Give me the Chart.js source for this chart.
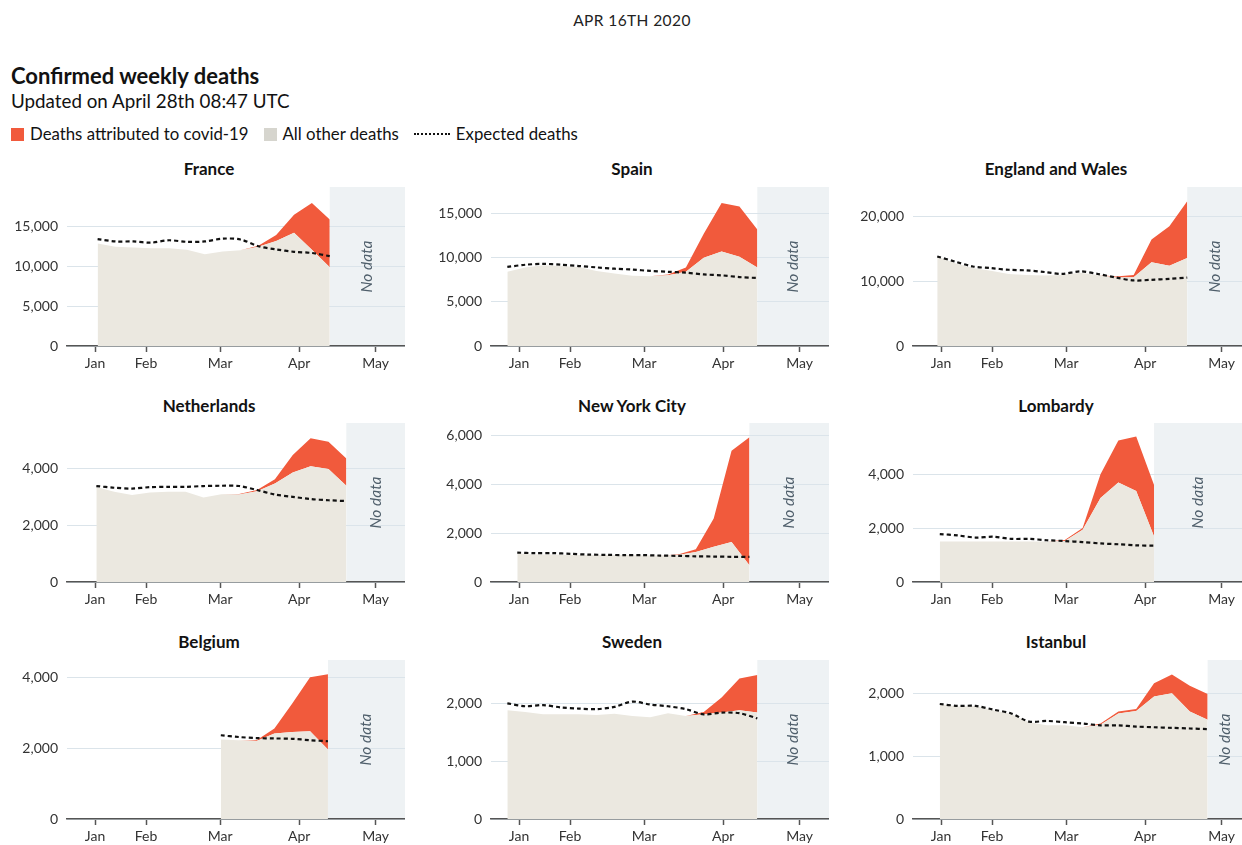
<!DOCTYPE html>
<html>
<head>
<meta charset="utf-8">
<title>Confirmed weekly deaths</title>
<script src="https://cdn.jsdelivr.net/npm/chart.js@4.4.1/dist/chart.umd.min.js"></script>
<style>
  html, body { margin: 0; padding: 0; background: #fff; width: 1242px; height: 845px; overflow: hidden;
               font-family: Lato, "Noto Sans", sans-serif; color: #121212; }
  .abs { position: absolute; white-space: nowrap; line-height: 1; }
  #date { top: 13px; left: 0; width: 1264px; text-align: center; font-size: 15.5px; letter-spacing: 0.4px; color: #222; }
  #title { top: 65px; left: 11px; font-size: 22px; font-weight: bold; }
  #subtitle { top: 92px; left: 11px; font-size: 18.8px; }
  #legend { top: 126px; left: 11px; font-size: 16.8px; display: flex; align-items: center; }
  #legend .sw { width: 13px; height: 13px; margin-right: 6px; }
  #legend .item { display: flex; align-items: center; margin-right: 15px; }
  #legend .dash { width: 36px; border-top: 2px dotted #111; margin-right: 6px; }
  .ptitle { font-size: 17px; font-weight: bold; transform: translateX(-50%); }
  canvas { position: absolute; }
</style>
</head>
<body>
<div id="date" class="abs">APR 16TH 2020</div>
<div id="title" class="abs">Confirmed weekly deaths</div>
<div id="subtitle" class="abs">Updated on April 28th 08:47 UTC</div>
<div id="legend" class="abs">
  <span class="item"><span class="sw" style="background:#f15a3c"></span>Deaths attributed to covid-19</span>
  <span class="item"><span class="sw" style="background:#d6d5ce"></span>All other deaths</span>
  <span class="item"><span class="dash"></span>Expected deaths</span>
</div>

<script>
// month ticks, as day-of-year 2020 (the "Jan" tick sits at the first week)
const monthDays = [11, 31, 60, 91, 121];
const monthLabels = ['Jan', 'Feb', 'Mar', 'Apr', 'May'];

// weekly values
const franceOther    = [12900, 12500, 12400, 12300, 12300, 12100, 11550, 11900, 12050, 12500, 13200, 14250, 12100, 9900];
const franceCovid    = [0, 0, 0, 0, 0, 0, 0, 0, 0, 100, 750, 2250, 5900, 6000];
const franceExpected = [13450, 13150, 13150, 13000, 13300, 13100, 13150, 13500, 13400, 12550, 12150, 11850, 11700, 11300];

const spainOther    = [8400, 8900, 9150, 9050, 8950, 8500, 8200, 7950, 7900, 8000, 8400, 10000, 10700, 10100, 8900];
const spainCovid    = [0, 0, 0, 0, 0, 0, 0, 0, 0, 100, 500, 2700, 5500, 5700, 4300];
const spainExpected = [8950, 9200, 9300, 9200, 9050, 8900, 8750, 8650, 8500, 8400, 8300, 8100, 8000, 7800, 7700];

const englandOther    = [13800, 12750, 12000, 11600, 11100, 10950, 10850, 10950, 11300, 10950, 10550, 10600, 12900, 12350, 13550];
const englandCovid    = [0, 0, 0, 0, 0, 0, 0, 0, 0, 0, 150, 350, 3500, 6100, 8750];
const englandExpected = [13800, 13000, 12250, 12000, 11750, 11650, 11400, 11100, 11500, 11100, 10550, 10100, 10200, 10350, 10550];

const netherlandsOther    = [3350, 3180, 3060, 3150, 3180, 3180, 2980, 3090, 3080, 3200, 3470, 3860, 4080, 3980, 3390];
const netherlandsCovid    = [0, 0, 0, 0, 0, 0, 0, 0, 20, 40, 150, 610, 980, 960, 960];
const netherlandsExpected = [3380, 3320, 3290, 3340, 3350, 3350, 3380, 3390, 3380, 3240, 3080, 3000, 2920, 2880, 2850];

const nycOther    = [1160, 1120, 1120, 1100, 1100, 1100, 1100, 1080, 1080, 1100, 1230, 1440, 1640, 680];
const nycCovid    = [0, 0, 0, 0, 0, 0, 0, 0, 0, 20, 110, 1160, 3730, 5240];
const nycExpected = [1200, 1180, 1180, 1150, 1120, 1110, 1100, 1100, 1080, 1070, 1050, 1040, 1030, 1030];

const lombardyOther    = [1500, 1500, 1500, 1500, 1500, 1500, 1500, 1520, 1940, 3120, 3690, 3380, 1690];
const lombardyCovid    = [0, 0, 0, 0, 0, 0, 0, 40, 60, 880, 1560, 2020, 1910];
const lombardyExpected = [1780, 1730, 1650, 1680, 1600, 1600, 1550, 1520, 1480, 1430, 1400, 1360, 1350];

const belgiumOther    = [2250, 2230, 2210, 2420, 2460, 2480, 1970];
const belgiumCovid    = [0, 0, 20, 140, 810, 1530, 2130];
const belgiumExpected = [2370, 2320, 2290, 2280, 2270, 2230, 2200];

const swedenOther    = [1880, 1850, 1810, 1810, 1810, 1800, 1820, 1780, 1760, 1830, 1780, 1810, 1840, 1880, 1840];
const swedenCovid    = [0, 0, 0, 0, 0, 0, 0, 0, 0, 0, 0, 40, 260, 550, 650];
const swedenExpected = [2000, 1950, 1970, 1930, 1910, 1900, 1940, 2030, 1980, 1950, 1900, 1810, 1840, 1830, 1740];

const istanbulOther    = [1830, 1790, 1800, 1730, 1670, 1540, 1490, 1490, 1460, 1500, 1680, 1720, 1950, 2000, 1710, 1580];
const istanbulCovid    = [0, 0, 0, 0, 0, 0, 0, 0, 0, 20, 30, 30, 210, 300, 410, 410];
const istanbulExpected = [1830, 1800, 1800, 1740, 1680, 1550, 1560, 1540, 1520, 1490, 1490, 1470, 1460, 1450, 1440, 1430];

// first week (day of year), end of data, axis top and tick labels per panel
const panels = [
  { name: 'France',            firstWeek: 12,   noDataFrom: 103,   yMax: 20000, yTicks: [0, 5000, 10000, 15000], other: franceOther, covid: franceCovid, expected: franceExpected },
  { name: 'Spain',             firstWeek: 6.4,  noDataFrom: 104.4, yMax: 18000, yTicks: [0, 5000, 10000, 15000], other: spainOther, covid: spainCovid, expected: spainExpected },
  { name: 'England and Wales', firstWeek: 9.5,  noDataFrom: 107.5, yMax: 24500, yTicks: [0, 10000, 20000], other: englandOther, covid: englandCovid, expected: englandExpected },
  { name: 'Netherlands',       firstWeek: 11.5, noDataFrom: 109.5, yMax: 5600,  yTicks: [0, 2000, 4000], other: netherlandsOther, covid: netherlandsCovid, expected: netherlandsExpected },
  { name: 'New York City',     firstWeek: 10.3, noDataFrom: 101.3, yMax: 6500,  yTicks: [0, 2000, 4000, 6000], other: nycOther, covid: nycCovid, expected: nycExpected },
  { name: 'Lombardy',          firstWeek: 10.5, noDataFrom: 94.5,  yMax: 5900,  yTicks: [0, 2000, 4000], other: lombardyOther, covid: lombardyCovid, expected: lombardyExpected },
  { name: 'Belgium',           firstWeek: 60.3, noDataFrom: 102.3, yMax: 4500,  yTicks: [0, 2000, 4000], other: belgiumOther, covid: belgiumCovid, expected: belgiumExpected },
  { name: 'Sweden',            firstWeek: 6.4,  noDataFrom: 104.4, yMax: 2750,  yTicks: [0, 1000, 2000], other: swedenOther, covid: swedenCovid, expected: swedenExpected },
  { name: 'Istanbul',          firstWeek: 10.5, noDataFrom: 115.5, yMax: 2530,  yTicks: [0, 1000, 2000], other: istanbulOther, covid: istanbulCovid, expected: istanbulExpected }
];

// grid geometry
const plotLeft = [67, 491, 913];
const plotTop = [187, 423, 659.5];
const titleCenter = [209, 632, 1056];
const titleTop = [160, 397, 633];
const Y_AXIS_W = 62, X_AXIS_H = 35, PAD_TOP = 20, PLOT_W = 338, PLOT_H = 158.5;

const noDataPlugin = {
  id: 'noData',
  beforeDraw(chart, args, opts) {
    const { ctx, chartArea: a, scales: { x } } = chart;
    const left = x.getPixelForValue(opts.from);
    ctx.save();
    ctx.fillStyle = '#eef2f4';
    ctx.fillRect(left, a.top, a.right - left, a.bottom - a.top);
    ctx.restore();
  },
  afterDatasetsDraw(chart, args, opts) {
    const { ctx, chartArea: a, scales: { x } } = chart;
    const left = x.getPixelForValue(opts.from);
    ctx.save();
    ctx.translate((left + Math.min(a.right, 1242 - chart.canvas.offsetLeft)) / 2, (a.top + a.bottom) / 2);
    ctx.rotate(-Math.PI / 2);
    ctx.fillStyle = '#4f5f6b';
    ctx.font = 'italic 15.5px Lato, "Noto Sans", sans-serif';
    ctx.textAlign = 'center';
    ctx.textBaseline = 'middle';
    ctx.fillText('No data', 0, 0);
    ctx.restore();
  }
};

const tickFont = { family: 'Lato, "Noto Sans", sans-serif', size: 14 };

function makePanel(p, idx) {
  const col = idx % 3, row = Math.floor(idx / 3);

  const t = document.createElement('div');
  t.className = 'abs ptitle';
  t.style.left = titleCenter[col] + 'px';
  t.style.top = titleTop[row] + 'px';
  t.textContent = p.name;
  document.body.appendChild(t);

  const canvas = document.createElement('canvas');
  canvas.width = Y_AXIS_W + PLOT_W;
  canvas.height = Math.round(PAD_TOP + PLOT_H + X_AXIS_H);
  canvas.style.left = (plotLeft[col] - Y_AXIS_W) + 'px';
  canvas.style.top = (plotTop[row] - PAD_TOP) + 'px';
  document.body.appendChild(canvas);

  const days = p.other.map((_, i) => p.firstWeek + 7 * i);
  const pts = arr => arr.map((v, i) => ({ x: days[i], y: v }));

  new Chart(canvas, {
    type: 'line',
    data: {
      datasets: [
        { label: 'Expected deaths', data: pts(p.expected), stack: 'expected', order: 0,
          borderColor: '#111', borderWidth: 2.2, borderDash: [4, 3], pointRadius: 0, fill: false, tension: 0.3 },
        // "other" must come first in the stack, covid sits on top of it
        { label: 'All other deaths', data: pts(p.other), stack: 'deaths', order: 1,
          backgroundColor: '#ebe8e0', borderColor: 'rgba(0,0,0,0)', borderWidth: 0, pointRadius: 0, fill: 'origin' },
        { label: 'Deaths attributed to covid-19', data: pts(p.covid), stack: 'deaths', order: 2,
          backgroundColor: '#f15a3c', borderColor: 'rgba(0,0,0,0)', borderWidth: 0, pointRadius: 0, fill: '-1' }
      ]
    },
    options: {
      responsive: false,
      animation: false,
      events: [],
      layout: { padding: { top: PAD_TOP, left: 0, right: 0, bottom: 0 } },
      plugins: {
        legend: { display: false },
        tooltip: { enabled: false },
        noData: { from: p.noDataFrom }
      },
      scales: {
        x: {
          type: 'linear', min: 0, max: 132.5,
          afterBuildTicks: s => { s.ticks = monthDays.map(v => ({ value: v })); },
          afterFit: s => { s.height = X_AXIS_H; },
          ticks: { autoSkip: false, maxRotation: 0, padding: 3, color: '#333', font: tickFont,
                   callback: (v, i) => monthLabels[i] },
          grid: { drawOnChartArea: false, drawTicks: true, tickLength: 6, color: '#555', tickWidth: 1.5 },
          border: { display: true, color: '#555', width: 1.5 }
        },
        y: {
          stacked: true, min: 0, max: p.yMax,
          afterBuildTicks: s => { s.ticks = p.yTicks.map(v => ({ value: v })); },
          afterFit: s => { s.width = Y_AXIS_W; },
          ticks: { padding: 9, color: '#333', font: tickFont, callback: v => v.toLocaleString('en-US') },
          grid: { color: '#dbe4ea', lineWidth: 1, drawTicks: false },
          border: { display: false }
        }
      }
    },
    plugins: [noDataPlugin]
  });
}

panels.forEach(makePanel);
</script>
</body>
</html>
